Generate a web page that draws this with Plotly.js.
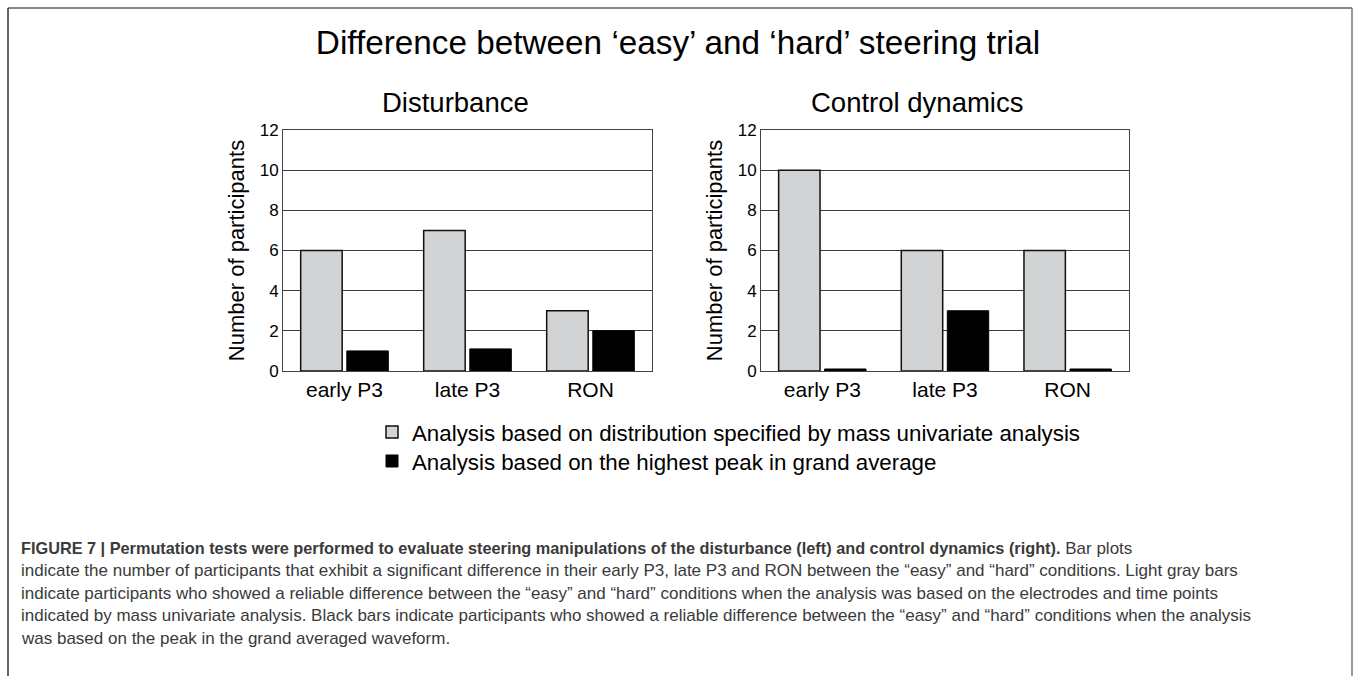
<!DOCTYPE html>
<html>
<head>
<meta charset="utf-8">
<script src="https://cdn.plot.ly/plotly-3.0.1.min.js"></script>
<style>html,body{margin:0;padding:0;background:#fff;}#chart{width:1356px;height:676px;}</style>
</head>
<body>
<div id="chart"></div>
<script>
// ---- data ----
const categories = ['early P3', 'late P3', 'RON'];
const seriesNames = [
  'Analysis based on distribution specified by mass univariate analysis',
  'Analysis based on the highest peak in grand average'
];
const disturbanceMass = [6, 7, 3];
const disturbancePeak = [1, 1.1, 2];
const controlMass = [10, 6, 6];
const controlPeak = [0.1, 3, 0.1];
const yTickVals = [0, 2, 4, 6, 8, 10, 12];
const panelTitles = ['Disturbance', 'Control dynamics'];
const mainTitle = 'Difference between ‘easy’ and ‘hard’ steering trial';
const yTitle = 'Number of participants';
const captionLines = [
  '<b><span style="font-size:16.3px">FIGURE 7 | Permutation tests were performed to evaluate steering manipulations of the disturbance (left) and control dynamics (right).</span></b> Bar plots',
  'indicate the number of participants that exhibit a significant difference in their early P3, late P3 and RON between the “easy” and “hard” conditions. Light gray bars',
  'indicate participants who showed a reliable difference between the “easy” and “hard” conditions when the analysis was based on the electrodes and time points',
  'indicated by mass univariate analysis. Black bars indicate participants who showed a reliable difference between the “easy” and “hard” conditions when the analysis',
  'was based on the peak in the grand averaged waveform.'
];

// ---- geometry helpers (pixels -> paper fractions) ----
const W = 1356, H = 676;
const px = v => v / W;
const py = v => 1 - v / H;
const FONT = '"Liberation Sans", Arial, sans-serif';

const grayFill = '#d1d3d4';
const barLine = '#111111';

const traces = [
  {type: 'bar', x: categories, y: disturbanceMass, name: seriesNames[0], xaxis: 'x', yaxis: 'y', legend: 'legend',
   marker: {color: grayFill, line: {color: barLine, width: 1.5}}, showlegend: true, hoverinfo: 'y'},
  {type: 'bar', x: categories, y: disturbancePeak, name: seriesNames[1], xaxis: 'x', yaxis: 'y', legend: 'legend2',
   marker: {color: '#000000', line: {color: '#000000', width: 1}}, showlegend: true, hoverinfo: 'y'},
  {type: 'bar', x: categories, y: controlMass, name: seriesNames[0], xaxis: 'x2', yaxis: 'y2',
   marker: {color: grayFill, line: {color: barLine, width: 1.5}}, showlegend: false, hoverinfo: 'y'},
  {type: 'bar', x: categories, y: controlPeak, name: seriesNames[1], xaxis: 'x2', yaxis: 'y2',
   marker: {color: '#000000', line: {color: '#000000', width: 1}}, showlegend: false, hoverinfo: 'y'}
];

const yAxisCommon = {
  range: [0, 12], tickvals: yTickVals, ticks: '', showgrid: true, gridcolor: '#3a3a3a', gridwidth: 1,
  zeroline: false, showline: true, mirror: true, linecolor: '#444', linewidth: 1,
  tickfont: {family: FONT, size: 17, color: '#000'}, automargin: false, fixedrange: true,
  title: {text: yTitle, font: {family: FONT, size: 22, color: '#000'}, standoff: 8}
};
const xAxisCommon = {
  type: 'category', ticks: '', showgrid: false, zeroline: false, showline: true, mirror: true,
  linecolor: '#444', linewidth: 1, tickfont: {family: FONT, size: 21, color: '#000'}, automargin: false, fixedrange: true
};

const annotations = [
  {text: panelTitles[0], x: px(455), y: py(102), xref: 'paper', yref: 'paper', showarrow: false,
   xanchor: 'center', yanchor: 'middle', font: {family: FONT, size: 27.5, color: '#000'}},
  {text: panelTitles[1], x: px(917), y: py(102), xref: 'paper', yref: 'paper', showarrow: false,
   xanchor: 'center', yanchor: 'middle', font: {family: FONT, size: 27.5, color: '#000'}}
];
const captionY = [548, 570.5, 593, 615.5, 638];
captionLines.forEach((t, i) => {
  annotations.push({text: t, x: px(19), y: py(captionY[i]), xref: 'paper', yref: 'paper', showarrow: false,
    xanchor: 'left', yanchor: 'middle', align: 'left', font: {family: FONT, size: 17, color: '#3a3a3a'}});
});

const frameShapes = [
  {type: 'line', xref: 'paper', yref: 'paper', x0: px(8), x1: px(1352), y0: py(8), y1: py(8), line: {color: '#888', width: 2}},
  {type: 'line', xref: 'paper', yref: 'paper', x0: px(8), x1: px(8), y0: py(8), y1: 0, line: {color: '#333', width: 1.5}},
  {type: 'line', xref: 'paper', yref: 'paper', x0: px(1352), x1: px(1352), y0: py(8), y1: 0, line: {color: '#777', width: 1.5}}
];

const legendCommon = {orientation: 'v', x: px(372), xanchor: 'left', yanchor: 'top', xref: 'paper', yref: 'paper',
  bgcolor: 'rgba(0,0,0,0)', font: {family: FONT, size: 22.3, color: '#000'}};

const layout = {
  width: W, height: H, margin: {l: 0, r: 0, t: 0, b: 0},
  paper_bgcolor: '#ffffff', plot_bgcolor: '#ffffff',
  font: {family: FONT, color: '#000'},
  title: {text: mainTitle, x: 0.5, xanchor: 'center', xref: 'paper', y: py(42), yanchor: 'middle', yref: 'container',
          font: {family: FONT, size: 33.3, color: '#000'}},
  barmode: 'group', bargap: 0.25, bargroupgap: 0.1,
  xaxis: Object.assign({}, xAxisCommon, {domain: [px(283), px(652)], anchor: 'y'}),
  yaxis: Object.assign({}, yAxisCommon, {domain: [py(371), py(130)], anchor: 'x'}),
  xaxis2: Object.assign({}, xAxisCommon, {domain: [px(761), px(1129)], anchor: 'y2'}),
  yaxis2: Object.assign({}, yAxisCommon, {domain: [py(371), py(130)], anchor: 'x2'}),
  showlegend: true,
  legend: Object.assign({}, legendCommon, {y: py(411)}),
  legend2: Object.assign({}, legendCommon, {y: py(440)}),
  annotations: annotations,
  shapes: frameShapes
};

Plotly.newPlot('chart', traces, layout, {displayModeBar: false, staticPlot: true});
</script>
</body>
</html>
